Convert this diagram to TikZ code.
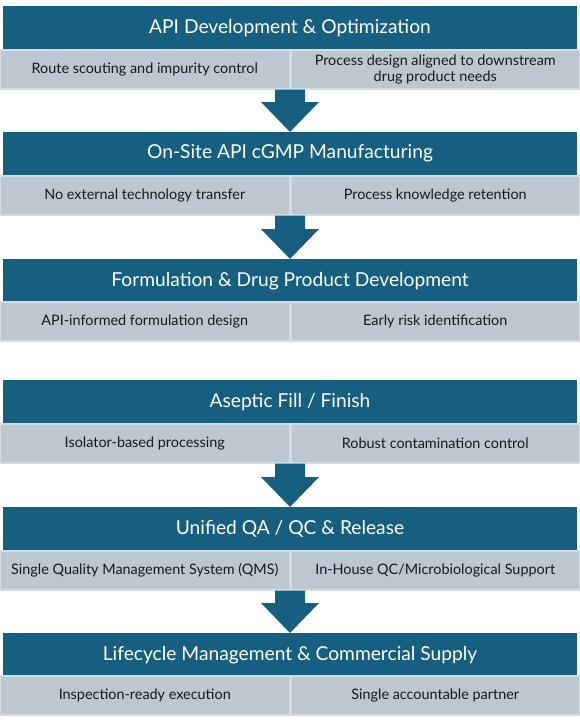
\documentclass[tikz,border=0pt]{standalone}
\usepackage{fontspec}
\setmainfont{Lato}
\usetikzlibrary{calc}
\definecolor{hdr}{RGB}{23,95,128}
\definecolor{cellfill}{RGB}{188,199,208}
\definecolor{cellline}{RGB}{214,220,225}
\definecolor{bodytext}{RGB}{25,25,25}
\tikzset{
  hdrbox/.style={fill=hdr, text=white, minimum width=574pt, minimum height=43pt, inner sep=0pt, anchor=north, font=\fontsize{19.2}{22}\selectfont},
  lcell/.style={fill=cellfill, draw=cellline, line width=1.5pt, minimum width=289pt, minimum height=39pt, inner sep=0pt, anchor=north east, align=center, text=bodytext, font=\fontsize{14.4}{16}\selectfont},
  rcell/.style={lcell, anchor=north west},
  flowarrow/.style={fill=hdr}
}
\begin{document}
\begin{tikzpicture}[x=1pt,y=-1pt]
\useasboundingbox (0,0) rectangle (580,720);
% sections
\node[hdrbox] (h1) at (290,6) {API Development \& Optimization};
\node[lcell] (l1) at (290,49) {Route scouting and impurity control};
\node[rcell] (r1) at (290,49) {Process design aligned to downstream\\drug product needs};

\node[hdrbox] (h2) at (290,132) {On-Site API cGMP Manufacturing};
\node[lcell] (l2) at (290,175) {No external technology transfer};
\node[rcell] (r2) at (290,175) {Process knowledge retention};

\node[hdrbox] (h3) at (290,259) {Formulation \& Drug Product Development};
\node[lcell] (l3) at (290,301) {API-informed formulation design};
\node[rcell] (r3) at (290,301) {Early risk identification};

\node[hdrbox] (h4) at (290,380) {Aseptic Fill / Finish};
\node[lcell] (l4) at (290,423) {Isolator-based processing};
\node[rcell] (r4) at (290,423) {Robust contamination control};

\node[hdrbox] (h5) at (290,507) {Unified QA / QC \& Release};
\node[lcell] (l5) at (290,550) {Single Quality Management System (QMS)};
\node[rcell] (r5) at (290,550) {In-House QC/Microbiological Support};

\node[hdrbox] (h6) at (290,633) {Lifecycle Management \& Commercial Supply};
\node[lcell] (l6) at (290,675) {Inspection-ready execution};
\node[rcell] (r6) at (290,675) {Single accountable partner};

% arrows
\foreach \a/\b in {l1/h2, l2/h3, l4/h5, l5/h6}{
  \fill[flowarrow] ($(\a.south east)+(-15,0)$) -- ($(\a.south east)+(15,0)$)
    -- ($(\b.north)+(15,-30)$) -- ($(\b.north)+(29,-30)$) -- (\b.north)
    -- ($(\b.north)+(-29,-30)$) -- ($(\b.north)+(-15,-30)$) -- cycle;
}
\end{tikzpicture}
\end{document}
